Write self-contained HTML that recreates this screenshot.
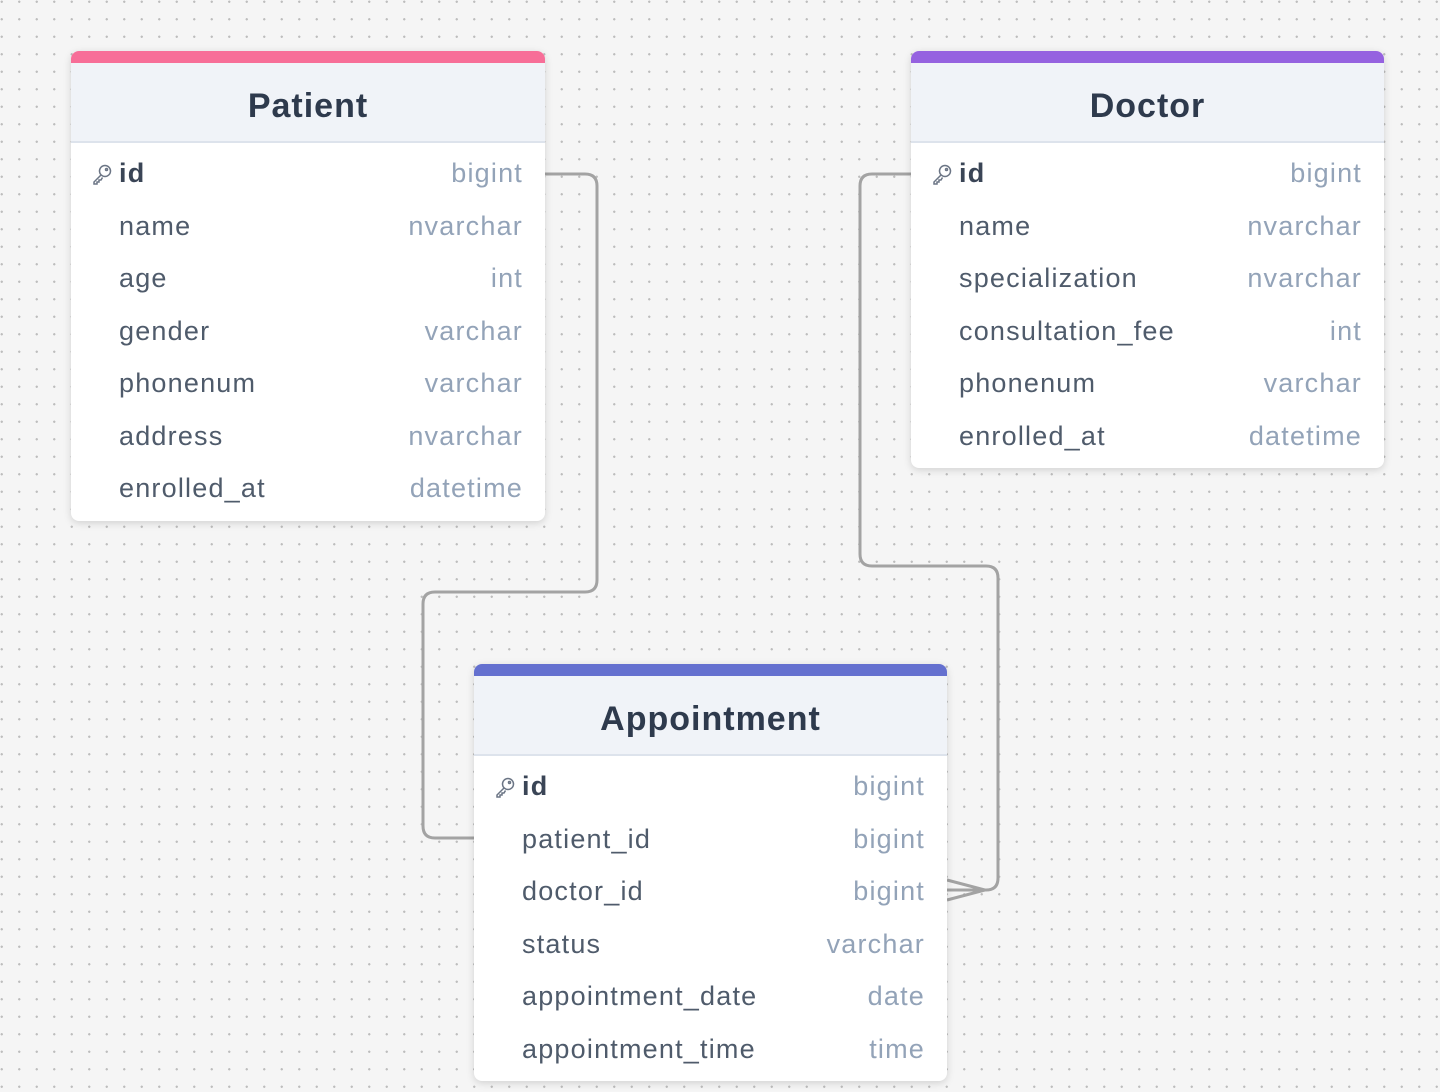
<!DOCTYPE html>
<html><head><style>
body{margin:0;width:1440px;height:1092px;background-color:#f5f5f5;background-image:radial-gradient(circle,#bdbdbd 1px,transparent 1.3px);background-size:17.5px 17.5px;background-position:-7px -7px;position:relative;overflow:hidden;font-family:"Liberation Sans",sans-serif}
.t{position:absolute;background:#fff;border-radius:8px;box-shadow:0 2px 8px rgba(0,0,0,.15);overflow:hidden}
.bar{height:12px}
.h{height:78px;background:#f0f3f8;border-bottom:2px solid #dde3ec;text-align:center;line-height:86px;font-size:34px;font-weight:bold;color:#2e3a4d;letter-spacing:1px}
.r{height:52.5px;position:relative;font-size:27px;line-height:52.5px;color:#4f5b6b;letter-spacing:1.2px}
.r .n{position:absolute;left:48px}
.r .y{position:absolute;right:22px;color:#93a3b8}
.r.k .n{font-weight:bold;color:#3a4556}
.key{position:absolute;left:20px;top:16px}
</style></head><body>
<svg width="1440" height="1092" style="position:absolute;left:0;top:0">
<g fill="none" stroke="#a3a3a3" stroke-width="3">
<path d="M545 174 H585 Q597 174 597 186 V580 Q597 592 585 592 H435 Q423 592 423 604 V826 Q423 838 435 838 H474"/>
<path d="M911 174 H872 Q860 174 860 186 V554 Q860 566 872 566 H986 Q998 566 998 578 V878 Q998 890 986 890 H947"/>
<path d="M947 880 L985 890 L947 900"/>
</g></svg>
<div class="t" style="left:71px;top:51px;width:474px;height:470px">
<div class="bar" style="background:#f76e98"></div><div class="h">Patient</div>
<div style="height:4px"></div>
<div class="r k"><svg class="key" width="22" height="22" viewBox="0 0 22 22" fill="none" stroke="#6b7585" stroke-width="1.5"><circle cx="14" cy="8" r="5.5"/><circle cx="15.5" cy="6.5" r="1"/><path d="M10 12 L3 19 L3 21 L6 21 L6 19 L8 19 L8 17 L10 17 L11.5 14.5"/></svg><span class="n">id</span><span class="y">bigint</span></div>
<div class="r"><span class="n">name</span><span class="y">nvarchar</span></div>
<div class="r"><span class="n">age</span><span class="y">int</span></div>
<div class="r"><span class="n">gender</span><span class="y">varchar</span></div>
<div class="r"><span class="n">phonenum</span><span class="y">varchar</span></div>
<div class="r"><span class="n">address</span><span class="y">nvarchar</span></div>
<div class="r"><span class="n">enrolled_at</span><span class="y">datetime</span></div>
</div>
<div class="t" style="left:911px;top:51px;width:473px;height:417px">
<div class="bar" style="background:#9562e0"></div><div class="h">Doctor</div>
<div style="height:4px"></div>
<div class="r k"><svg class="key" width="22" height="22" viewBox="0 0 22 22" fill="none" stroke="#6b7585" stroke-width="1.5"><circle cx="14" cy="8" r="5.5"/><circle cx="15.5" cy="6.5" r="1"/><path d="M10 12 L3 19 L3 21 L6 21 L6 19 L8 19 L8 17 L10 17 L11.5 14.5"/></svg><span class="n">id</span><span class="y">bigint</span></div>
<div class="r"><span class="n">name</span><span class="y">nvarchar</span></div>
<div class="r"><span class="n">specialization</span><span class="y">nvarchar</span></div>
<div class="r"><span class="n">consultation_fee</span><span class="y">int</span></div>
<div class="r"><span class="n">phonenum</span><span class="y">varchar</span></div>
<div class="r"><span class="n">enrolled_at</span><span class="y">datetime</span></div>
</div>
<div class="t" style="left:474px;top:664px;width:473px;height:417px">
<div class="bar" style="background:#6470cf"></div><div class="h">Appointment</div>
<div style="height:4px"></div>
<div class="r k"><svg class="key" width="22" height="22" viewBox="0 0 22 22" fill="none" stroke="#6b7585" stroke-width="1.5"><circle cx="14" cy="8" r="5.5"/><circle cx="15.5" cy="6.5" r="1"/><path d="M10 12 L3 19 L3 21 L6 21 L6 19 L8 19 L8 17 L10 17 L11.5 14.5"/></svg><span class="n">id</span><span class="y">bigint</span></div>
<div class="r"><span class="n">patient_id</span><span class="y">bigint</span></div>
<div class="r"><span class="n">doctor_id</span><span class="y">bigint</span></div>
<div class="r"><span class="n">status</span><span class="y">varchar</span></div>
<div class="r"><span class="n">appointment_date</span><span class="y">date</span></div>
<div class="r"><span class="n">appointment_time</span><span class="y">time</span></div>
</div>
</body></html>
